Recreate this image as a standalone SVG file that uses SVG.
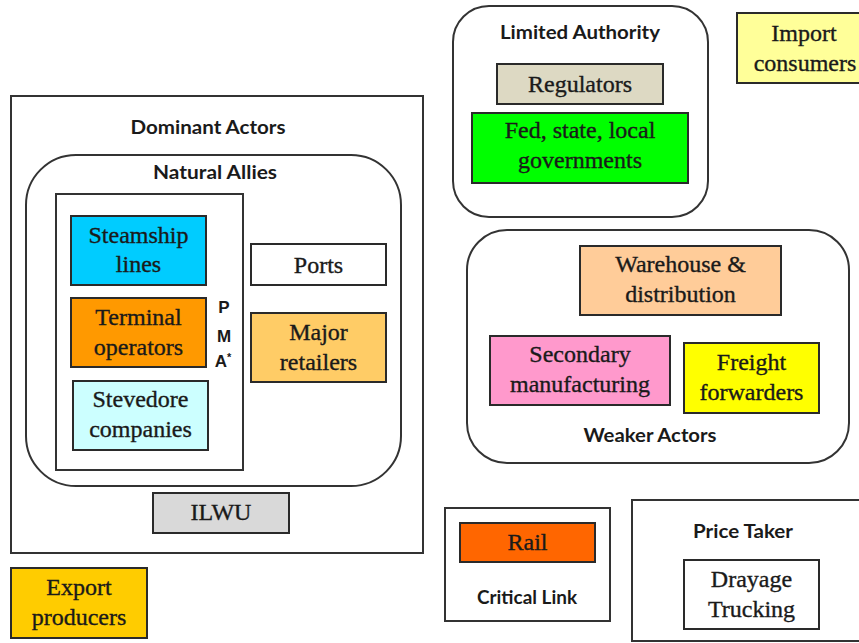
<svg xmlns="http://www.w3.org/2000/svg" width="859" height="643" viewBox="0 0 859 643">
<style>
.frame{fill:#fff;stroke:#333;stroke-width:2}
.box{stroke:#2a2a2a;stroke-width:2}
.serif{font-family:'Liberation Serif','Times New Roman',serif;font-size:24px;fill:#1a1a1a;stroke:#1a1a1a;stroke-width:0.35;text-anchor:middle}
.sans{font-family:Lato,'Open Sans','Liberation Sans',sans-serif;font-weight:bold;font-size:19px;fill:#1a1a1a;text-anchor:middle}
.pma{font-family:'Liberation Sans',Arial,sans-serif;font-weight:bold;font-size:17px;fill:#1a1a1a;text-anchor:middle}
</style>
<rect width="859" height="643" fill="#fff"/>
<g id="dominant-actors">
<rect class="frame" x="11" y="96" width="412" height="457"/>
<text class="sans" x="208" y="134" textLength="155" lengthAdjust="spacingAndGlyphs">Dominant Actors</text>
</g>
<g id="natural-allies">
<rect class="frame" x="26" y="155" width="375" height="331" rx="50" ry="50"/>
<text class="sans" x="215" y="179" textLength="124" lengthAdjust="spacingAndGlyphs">Natural Allies</text>
</g>
<g id="pma">
<rect class="frame" x="56" y="194" width="187" height="276"/>
<text class="pma" x="224" y="313">P</text>
<text class="pma" x="224" y="342">M</text>
<text class="pma" x="223" y="367">A<tspan font-size="11" dy="-6">*</tspan></text>
</g>
<g id="steamship-lines">
<rect class="box" x="71" y="216" width="135" height="69" fill="#00CCFF"/>
<text class="serif" x="138.5" y="243">Steamship</text>
<text class="serif" x="138.5" y="272">lines</text>
</g>
<g id="terminal-operators">
<rect class="box" x="71" y="298" width="135" height="69" fill="#FF9900"/>
<text class="serif" x="138.5" y="325">Terminal</text>
<text class="serif" x="138.5" y="355">operators</text>
</g>
<g id="stevedore-companies">
<rect class="box" x="73" y="381" width="135" height="69" fill="#CCFFFF"/>
<text class="serif" x="140.5" y="407">Stevedore</text>
<text class="serif" x="140.5" y="437">companies</text>
</g>
<g id="ports">
<rect class="box" x="251" y="244" width="135" height="41" fill="#FFFFFF"/>
<text class="serif" x="318.5" y="273">Ports</text>
</g>
<g id="major-retailers">
<rect class="box" x="251" y="313" width="135" height="69" fill="#FFCC66"/>
<text class="serif" x="318.5" y="340">Major</text>
<text class="serif" x="318.5" y="370">retailers</text>
</g>
<g id="ilwu">
<rect class="box" x="153" y="493" width="136" height="40" fill="#D9D9D9"/>
<text class="serif" x="221" y="520">ILWU</text>
</g>
<g id="export-producers">
<rect class="box" x="11" y="568" width="136" height="70" fill="#FFCC00"/>
<text class="serif" x="79" y="595">Export</text>
<text class="serif" x="79" y="625">producers</text>
</g>
<g id="limited-authority">
<rect class="frame" x="453" y="6" width="255" height="211" rx="36" ry="36"/>
<text class="sans" x="580" y="39" textLength="160" lengthAdjust="spacingAndGlyphs">Limited Authority</text>
</g>
<g id="regulators">
<rect class="box" x="497" y="64" width="166" height="40" fill="#DDD9C3"/>
<text class="serif" x="580" y="92">Regulators</text>
</g>
<g id="governments">
<rect class="box" x="472" y="113" width="216" height="70" fill="#00FF00"/>
<text class="serif" x="580" y="138">Fed, state, local</text>
<text class="serif" x="580" y="168">governments</text>
</g>
<g id="import-consumers">
<rect class="box" x="737" y="13" width="140" height="70" fill="#FFFF99"/>
<text class="serif" x="804" y="41">Import</text>
<text class="serif" x="805" y="71">consumers</text>
</g>
<g id="weaker-actors">
<rect class="frame" x="467" y="230" width="382" height="233" rx="40" ry="40"/>
<text class="sans" x="650" y="442" textLength="133" lengthAdjust="spacingAndGlyphs">Weaker Actors</text>
</g>
<g id="warehouse-distribution">
<rect class="box" x="580" y="246" width="201" height="69" fill="#FFCC99"/>
<text class="serif" x="680.5" y="272">Warehouse &amp;</text>
<text class="serif" x="680.5" y="302">distribution</text>
</g>
<g id="secondary-manufacturing">
<rect class="box" x="490" y="336" width="180" height="69" fill="#FF99CC"/>
<text class="serif" x="580" y="362">Secondary</text>
<text class="serif" x="580" y="392">manufacturing</text>
</g>
<g id="freight-forwarders">
<rect class="box" x="684" y="343" width="135" height="70" fill="#FFFF00"/>
<text class="serif" x="751.5" y="370">Freight</text>
<text class="serif" x="751.5" y="400">forwarders</text>
</g>
<g id="critical-link">
<rect class="frame" x="445" y="508" width="165" height="113"/>
<text class="sans" x="527" y="604" textLength="100" lengthAdjust="spacingAndGlyphs" font-size="17">Critical Link</text>
</g>
<g id="rail">
<rect class="box" x="460" y="523" width="135" height="39" fill="#FF6600"/>
<text class="serif" x="527.5" y="550">Rail</text>
</g>
<g id="price-taker">
<rect class="frame" x="632" y="500" width="250" height="141"/>
<text class="sans" x="743" y="538" textLength="100" lengthAdjust="spacingAndGlyphs">Price Taker</text>
</g>
<g id="drayage-trucking">
<rect class="box" x="684" y="560" width="135" height="69" fill="#FFFFFF"/>
<text class="serif" x="751.5" y="587">Drayage</text>
<text class="serif" x="751.5" y="617">Trucking</text>
</g>
<g id="connectors"></g>
</svg>
